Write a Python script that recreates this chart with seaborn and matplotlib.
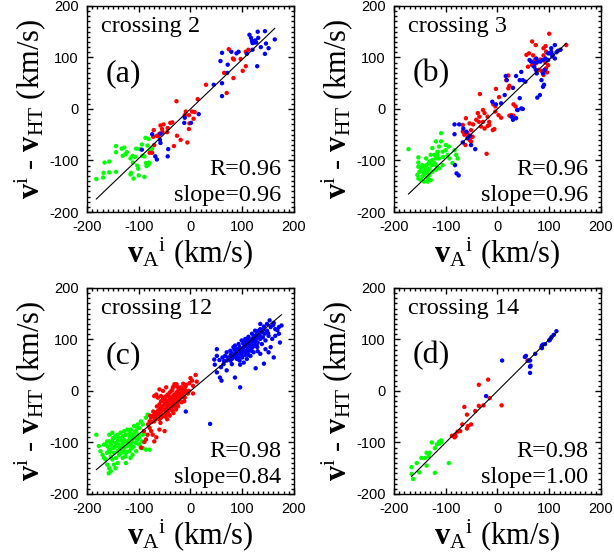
import pandas as pd
import matplotlib
matplotlib.use("Agg")
import matplotlib.pyplot as plt
import seaborn as sns

# (vA, v - vHT) pairs, km/s
a_blue = [(114, 144), (117, 138), (130, 150), (144, 151), (119, 132), (123, 129), (120, 128), (125, 133),
          (127, 129), (131, 138), (136, 120), (146, 127), (151, 118), (144, 107), (163, 135), (129, 83),
          (120, 115), (109, 107), (93, 111), (89, 108), (79, 111), (71, 70), (61, 109), (58, 93), (72, 86),
          (45, 47), (61, 50), (61, 25), (16, -10), (1, -27), (-11, -17), (-12, -27), (-58, -48), (-59, -60),
          (-58, -66), (-94, -79), (-74, -49), (-68, -92), (-65, -98), (-43, -78), (-44, -92)]
a_red = [(74, 116), (84, 96), (82, 98), (97, 97), (112, 115), (107, 111), (107, 83), (101, 74), (83, 60),
         (70, 31), (65, 70), (30, 47), (14, 19), (-27, 15), (3, -5), (8, -6), (-9, -5), (-11, -12), (-3, -12),
         (6, -19), (-2, -28), (-35, -26), (-39, -27), (-52, -30), (-44, -37), (-45, -45), (-71, -41),
         (-58, -32), (-55, -39), (-62, -53), (-60, -48), (-65, -52), (-72, -54), (-70, -70), (-74, -85),
         (-79, -85), (-32, -72), (-19, -60), (-6, -65), (-3, -39), (-26, -52), (-54, -45)]
a_green = [(-182, -136), (-168, -124), (-166, -104), (-157, -102), (-144, -72), (-144, -84), (-133, -77),
           (-128, -75), (-131, -91), (-126, -88), (-116, -96), (-112, -91), (-107, -93), (-111, -104),
           (-105, -77), (-98, -78), (-94, -69), (-87, -56), (-81, -58), (-83, -71), (-78, -81), (-74, -77),
           (-89, -92), (-86, -105), (-81, -108), (-85, -111), (-80, -104), (-93, -91), (-103, -110),
           (-115, -124), (-116, -127), (-110, -135), (-101, -116), (-100, -129), (-89, -132), (-144, -122),
           (-169, -133), (-157, -123), (-123, -84)]

b_blue = [(101, 108), (104, 111), (107, 105), (114, 110), (117, 113), (122, 115), (111, 98), (106, 102),
          (98, 108), (93, 98), (88, 95), (83, 92), (78, 92), (72, 89), (71, 82), (74, 76), (76, 69), (88, 69),
          (91, 76), (85, 56), (88, 43), (90, 47), (82, 27), (77, 22), (65, 92), (62, 95), (46, 72), (49, 56),
          (54, 53), (36, 64), (43, 56), (16, 64), (18, 56), (30, 41), (14, 27), (7, 11), (-3, 9), (-10, 14),
          (27, -15), (46, 1), (39, -2), (49, 0), (43, 21), (36, -18), (30, -21), (-83, -30), (-83, -49),
          (-74, -30), (-66, -38), (-58, -57), (-51, -70), (-43, -78), (-67, -65), (-79, -125), (-75, -129),
          (-82, -109), (-60, -44), (-53, -52), (111, 124), (104, 118), (98, 95), (75, 98)]
b_red = [(100, 146), (67, 131), (74, 124), (93, 122), (89, 118), (133, 124), (94, 111), (89, 104), (83, 96),
         (93, 90), (98, 85), (94, 79), (80, 76), (85, 74), (96, 71), (89, 66), (61, 108), (56, 105), (69, 104),
         (72, 95), (75, 89), (59, 82), (67, 85), (21, 65), (17, 56), (23, 45), (21, 40), (-3, 39), (-34, 29),
         (3, 23), (-8, 9), (-4, 5), (-4, -5), (31, 9), (35, 5), (27, -12), (23, -13), (31, -13), (38, -2),
         (2, -12), (7, -17), (-28, -2), (-19, -15), (-38, -8), (-35, -15), (-25, -8), (-41, -21), (-28, -25),
         (-32, -34), (-25, -38), (-19, -33), (-9, -41), (-6, -39), (-61, -18), (-67, -31), (-54, -28),
         (-51, -41), (-48, -54), (-58, -47), (-64, -50), (-54, -57), (-51, -63), (-62, -70), (-53, -61),
         (-57, -54), (-21, -87), (-67, -44), (-47, -30), (-36, -25), (-16, -31), (-16, -25)]
b_green = [(-172, -78), (-153, -94), (-153, -104), (-153, -112), (-151, -122), (-153, -135), (-148, -138),
           (-145, -131), (-142, -128), (-138, -125), (-135, -122), (-132, -116), (-140, -112), (-137, -109),
           (-131, -102), (-126, -99), (-122, -105), (-119, -96), (-116, -89), (-113, -96), (-109, -47),
           (-119, -63), (-126, -76), (-113, -73), (-106, -83), (-105, -93), (-100, -80), (-96, -89), (-93, -96),
           (-87, -105), (-80, -89), (-77, -96), (-83, -80), (-132, -128), (-135, -141), (-142, -141),
           (-129, -138), (-148, -115), (-145, -109), (-138, -96), (-129, -89), (-122, -89), (-119, -109),
           (-113, -115), (-106, -109), (-135, -135), (-126, -122), (-119, -118), (-144, -122), (-155, -128),
           (-109, -63), (-100, -70), (-94, -73), (-116, -83), (-127, -109), (-133, -105), (-140, -118)]

c_blue = [(176, 127), (171, 124), (164, 120), (161, 132), (153, 137), (148, 130), (142, 125), (135, 120),
          (132, 117), (129, 111), (125, 107), (122, 104), (119, 101), (116, 98), (112, 94), (109, 91), (106, 88),
          (103, 85), (99, 81), (96, 78), (93, 75), (90, 72), (86, 68), (83, 65), (80, 62), (77, 59), (138, 114),
          (143, 111), (134, 107), (127, 101), (121, 96), (117, 91), (111, 85), (105, 77), (98, 72), (92, 65),
          (135, 101), (130, 94), (124, 88), (118, 83), (113, 78), (106, 70), (100, 65), (95, 59), (148, 117),
          (155, 124), (151, 107), (145, 98), (138, 91), (129, 85), (122, 75), (116, 68), (109, 62), (103, 55),
          (96, 51), (90, 81), (83, 85), (77, 78), (70, 75), (67, 68), (73, 65), (80, 73), (86, 88), (93, 91),
          (99, 98), (106, 101), (112, 105), (119, 111), (125, 117), (135, 130), (51, 81), (56, 60), (46, 61),
          (59, 46), (51, 36), (57, 26), (60, 20), (47, 51), (64, 52), (70, 59), (86, 26), (96, 7), (126, 44),
          (142, 53), (155, 85), (161, 65), (173, 94), (171, 111), (145, 81), (151, 75), (158, 101), (164, 107),
          (130, 77), (135, 72), (51, 68), (62, 65), (-9, -40), (38, -64),
          (85, 80), (95, 85), (100, 75), (105, 95), (110, 80), (115, 90), (120, 85), (90, 62), (98, 68),
          (108, 72), (118, 78), (128, 90), (132, 105), (140, 118), (150, 112), (78, 70), (65, 58), (110, 100),
          (102, 92), (125, 95), (88, 75), (140, 104), (160, 128), (168, 118), (112, 70), (70, 40), (80, 52)]
c_red = [(10, 31), (3, 20), (5, 10), (-8, 12), (-14, 14), (-18, 7), (-21, 3), (-24, 0), (-27, -3), (-31, -7),
         (-34, -10), (-37, -13), (-40, -16), (-44, -20), (-47, -23), (-50, -26), (-53, -29), (-57, -33),
         (-60, -36), (-63, -39), (-66, -42), (-70, -46), (-73, -49), (-76, -52), (-14, 0), (-18, -7), (-21, -13),
         (-24, -20), (-27, -23), (-31, -26), (-34, -29), (-37, -33), (-40, -36), (-44, -39), (-47, -42),
         (-50, -46), (-53, -49), (-57, -52), (-60, -55), (-34, 7), (-31, 10), (-27, 13), (-24, 7), (-37, 0),
         (-40, -3), (-44, -7), (-47, -10), (-50, -13), (-53, -16), (-57, -20), (-60, -26), (-21, -3),
         (-18, -13), (-14, -10), (-11, -3), (-40, -26), (-34, -20), (-27, -13), (-31, -16), (-37, -23),
         (-44, -29), (-50, -36), (-57, -42), (-63, -46), (-66, -52), (-70, -59), (-31, 13), (-47, 7), (-60, 3),
         (-66, -7), (-63, -13), (-57, -10), (-70, -10), (-53, 0), (-11, -13), (-8, 0), (-79, -72), (-76, -78),
         (-83, -85), (-73, -85), (-66, -90), (-86, -94), (-89, -99), (-70, -98), (-60, -75), (-50, -78),
         (-79, -59),
         (-45, -32), (-42, -45), (-38, -18), (-35, -38), (-30, -30), (-28, -8), (-25, -25), (-22, -18),
         (-20, -8), (-17, -22), (-15, 2), (-12, -20), (-10, 8), (-5, -5), (-2, 15), (0, 25), (-55, -38),
         (-52, -20), (-48, -50), (-62, -45), (-65, -30), (-68, -55), (-72, -40), (-75, -60), (-78, -48),
         (-82, -65), (-58, -62), (-45, -55), (-40, -48), (-33, -43), (-28, -36), (-24, -30), (-35, 2),
         (-42, -10), (-48, -18), (5, -5), (12, 18), (-3, 0), (-90, -78), (-95, -110)]
c_green = [(-182, -85), (-177, -107), (-174, -117), (-170, -124), (-167, -130), (-164, -133), (-161, -143),
           (-157, -150), (-154, -156), (-164, -104), (-157, -98), (-151, -98), (-144, -101), (-138, -91),
           (-131, -88), (-125, -85), (-118, -81), (-112, -85), (-105, -78), (-99, -72), (-92, -65), (-86, -52),
           (-83, -46), (-96, -59), (-102, -65), (-109, -68), (-115, -75), (-122, -75), (-128, -78), (-135, -81),
           (-141, -85), (-148, -91), (-154, -104), (-151, -111), (-144, -107), (-138, -104), (-131, -101),
           (-125, -98), (-118, -94), (-112, -98), (-105, -101), (-99, -104), (-92, -111), (-86, -114),
           (-79, -114), (-141, -117), (-135, -114), (-128, -111), (-122, -107), (-115, -104), (-138, -124),
           (-131, -130), (-125, -120), (-118, -117), (-144, -130), (-151, -133), (-148, -120), (-157, -114),
           (-161, -120), (-154, -127), (-141, -140), (-125, -140), (-112, -124), (-105, -117), (-99, -91),
           (-92, -85), (-109, -91), (-161, -98), (-167, -104), (-157, -85), (-151, -81),
           (-140, -95), (-135, -95), (-130, -107), (-128, -95), (-122, -118), (-120, -100), (-118, -88),
           (-115, -112), (-110, -108), (-108, -80), (-103, -95), (-100, -85), (-96, -110), (-147, -110),
           (-150, -92), (-155, -118), (-160, -108), (-133, -120), (-126, -127), (-145, -88), (-137, -110),
           (-128, -118), (-113, -93), (-106, -88), (-94, -98), (-90, -80), (-104, -70), (-116, -130),
           (-148, -143), (-158, -160), (-145, -150)]

d_blue = [(114, 116), (109, 109), (105, 105), (103, 102), (100, 98), (92, 91), (88, 90), (86, 88), (85, 85),
          (86, 83), (73, 72), (55, 68), (53, 66), (63, 59), (60, 59), (64, 49), (63, 47), (63, 35), (9, 59),
          (-22, -10), (101, 99)]
d_red = [(58, 59), (-18, 22), (-36, 12), (-15, -14), (-27, -28), (-36, -29), (-43, -39), (8, -28), (-64, -31),
         (-59, -46), (-51, -65), (-57, -68), (-59, -73), (-68, -65), (-72, -78), (-77, -79), (-82, -85),
         (-83, -90), (-81, -88), (-88, -87)]
d_green = [(-109, -96), (-108, -99), (-113, -99), (-117, -104), (-127, -100), (-121, -111), (-131, -120),
           (-137, -120), (-133, -127), (-140, -130), (-147, -130), (-137, -145), (-156, -140), (-151, -158),
           (-166, -148), (-166, -161), (-163, -171), (-121, -159), (-94, -140), (-112, -102)]

crossings = ["crossing 2", "crossing 3", "crossing 12", "crossing 14"]
letters = ["(a)", "(b)", "(c)", "(d)"]
r_values = [0.96, 0.96, 0.98, 0.98]
slopes = [0.96, 0.96, 0.84, 1.00]
groups = [(a_green, a_red, a_blue), (b_green, b_red, b_blue),
          (c_green, c_red, c_blue), (d_green, d_red, d_blue)]

plt.rcParams['font.family'] = ['Liberation Sans', 'DejaVu Sans']
plt.rcParams['axes.unicode_minus'] = False
plt.rcParams['mathtext.fontset'] = 'custom'
plt.rcParams['mathtext.rm'] = 'Liberation Serif'
plt.rcParams['mathtext.bf'] = 'Liberation Serif:bold'
plt.rcParams['mathtext.it'] = 'Liberation Serif:italic'

palette = {"green": "#00ff00", "red": "#ff0000", "blue": "#0000ff"}
serif = "Liberation Serif"

fig = plt.figure(figsize=(6.14, 5.6), dpi=100)
boxes = [(0.1417, 0.6214), (0.6417, 0.6214), (0.1417, 0.1179), (0.6417, 0.1179)]

for i, (x0, y0) in enumerate(boxes):
    ax = fig.add_axes([x0, y0, 0.337, 0.368])
    rows = []
    for name, pts in zip(["green", "red", "blue"], groups[i]):
        for vx, vy in pts:
            rows.append({"vA": vx, "v": vy, "group": name})
    df = pd.DataFrame(rows)
    sns.scatterplot(data=df, x="vA", y="v", hue="group", palette=palette, s=10,
                    linewidth=0, legend=False, ax=ax, zorder=2)

    # fit line across the data range
    fit = pd.DataFrame({"vA": [df["vA"].min(), df["vA"].max()]})
    fit["v"] = slopes[i] * fit["vA"]
    ax.plot(fit["vA"], fit["v"], color="black", lw=0.8, zorder=3)

    ax.set_xlim(-200, 200)
    ax.set_ylim(-200, 200)
    ax.set_xticks([-200, -100, 0, 100, 200])
    ax.set_yticks([-200, -100, 0, 100, 200])
    ax.set_xticks(range(-200, 201, 10), minor=True)
    ax.set_yticks(range(-200, 201, 10), minor=True)
    ax.tick_params(which="both", direction="in", top=True, right=True, color="black", width=1.0)
    ax.tick_params(which="major", length=4.5, pad=6, labelsize=10.5)
    ax.tick_params(which="minor", length=2.2)
    for sp in ax.spines.values():
        sp.set_linewidth(1.0)

    ax.set_xlabel(r"$\mathbf{v}_{\mathrm{A}}{}^{\mathrm{i}}$ (km/s)", fontsize=22, family=serif)
    ax.set_ylabel(r"$\mathbf{v}^{\mathrm{i}}$ - $\mathbf{v}_{\mathrm{HT}}$ (km/s)",
                  fontsize=22, family=serif)
    ax.xaxis.set_label_coords(0.5, -0.2)
    ax.yaxis.set_label_coords(-0.275, 0.5)
    ax.xaxis.label.set_va("center")
    ax.yaxis.label.set_va("center")

    ax.text(0.07, 0.875, crossings[i], transform=ax.transAxes, fontsize=17.5, family=serif)
    ax.text(0.09, 0.67, letters[i], transform=ax.transAxes, fontsize=23, family=serif, va="center")
    ax.text(0.94, 0.18, f"R={r_values[i]:.2f}", transform=ax.transAxes, fontsize=17.5,
            family=serif, ha="right")
    ax.text(0.94, 0.055, f"slope={slopes[i]:.2f}", transform=ax.transAxes, fontsize=17.5,
            family=serif, ha="right")

fig.savefig("out.png", dpi=100)
